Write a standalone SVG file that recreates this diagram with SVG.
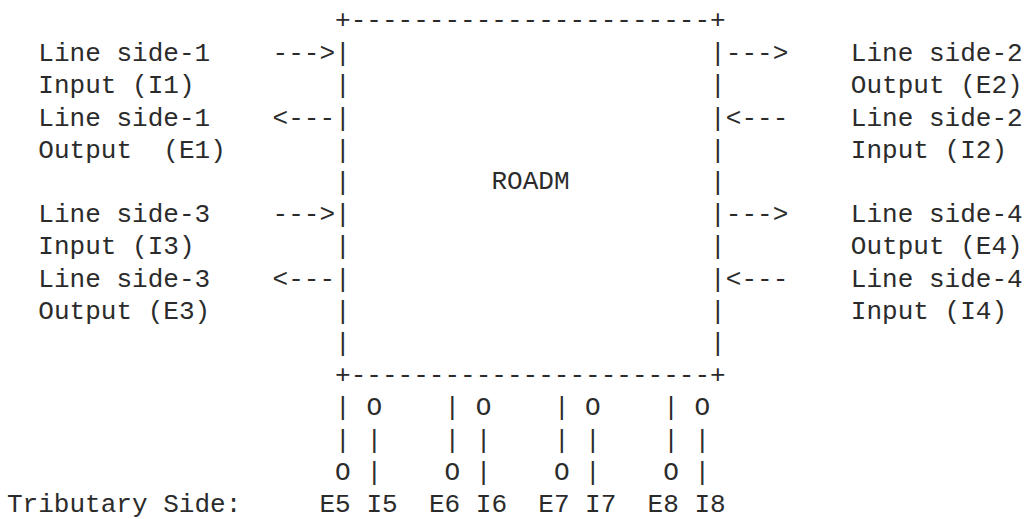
<svg xmlns="http://www.w3.org/2000/svg" width="1024" height="519" viewBox="0 0 1024 519" xml:space="preserve">
<style>
text { font-family: "Liberation Mono", "DejaVu Sans Mono", monospace; font-size: 26.04px; fill: #2b2b2b; white-space: pre; }
</style>
<rect width="1024" height="519" fill="#ffffff"/>
<g id="roadm">
<text x="335.1" y="28">+-----------------------+</text>
<text x="335.1" y="61.2">|</text><text x="710.1" y="61.2">|</text>
<text x="335.1" y="93.4">|</text><text x="710.1" y="93.4">|</text>
<text x="335.1" y="125.6">|</text><text x="710.1" y="125.6">|</text>
<text x="335.1" y="157.8">|</text><text x="710.1" y="157.8">|</text>
<text x="335.1" y="190">|</text><text x="710.1" y="190">|</text>
<text x="335.1" y="222.2">|</text><text x="710.1" y="222.2">|</text>
<text x="335.1" y="254.4">|</text><text x="710.1" y="254.4">|</text>
<text x="335.1" y="286.6">|</text><text x="710.1" y="286.6">|</text>
<text x="335.1" y="318.8">|</text><text x="710.1" y="318.8">|</text>
<text x="335.1" y="351">|</text><text x="710.1" y="351">|</text>
<text x="335.1" y="383.2">+-----------------------+</text>
<text x="491.4" y="189">ROADM</text>
</g>
<g id="side1-input"><text x="38.3" y="61.2">Line side-1</text><text x="38.3" y="93.4">Input (I1)</text></g>
<g id="side1-output"><text x="38.3" y="125.6">Line side-1</text><text x="38.3" y="157.8">Output  (E1)</text></g>
<g id="side3-input"><text x="38.3" y="222.2">Line side-3</text><text x="38.3" y="254.4">Input (I3)</text></g>
<g id="side3-output"><text x="38.3" y="286.6">Line side-3</text><text x="38.3" y="318.8">Output (E3)</text></g>
<g id="side2-output"><text x="850.8" y="61.2">Line side-2</text><text x="850.8" y="93.4">Output (E2)</text></g>
<g id="side2-input"><text x="850.8" y="125.6">Line side-2</text><text x="850.8" y="157.8">Input (I2)</text></g>
<g id="side4-output"><text x="850.8" y="222.2">Line side-4</text><text x="850.8" y="254.4">Output (E4)</text></g>
<g id="side4-input"><text x="850.8" y="286.6">Line side-4</text><text x="850.8" y="318.8">Input (I4)</text></g>
<g id="trib-5">
<text x="366.4" y="415.4">O</text><text x="335.1" y="479.8">O</text>
<text x="319.5" y="512">E5</text><text x="366.4" y="512">I5</text>
</g>
<g id="trib-6">
<text x="475.8" y="415.4">O</text><text x="444.5" y="479.8">O</text>
<text x="428.9" y="512">E6</text><text x="475.8" y="512">I6</text>
</g>
<g id="trib-7">
<text x="585.1" y="415.4">O</text><text x="553.9" y="479.8">O</text>
<text x="538.3" y="512">E7</text><text x="585.1" y="512">I7</text>
</g>
<g id="trib-8">
<text x="694.5" y="415.4">O</text><text x="663.3" y="479.8">O</text>
<text x="647.6" y="512">E8</text><text x="694.5" y="512">I8</text>
</g>
<g id="tributary-label"><text x="7" y="512">Tributary Side:</text></g>
<g id="connectors">
<text x="272.6" y="61.2">---></text>
<text x="272.6" y="125.6">&lt;---</text>
<text x="272.6" y="222.2">---></text>
<text x="272.6" y="286.6">&lt;---</text>
<text x="725.8" y="61.2">---></text>
<text x="725.8" y="125.6">&lt;---</text>
<text x="725.8" y="222.2">---></text>
<text x="725.8" y="286.6">&lt;---</text>
<text x="335.1" y="415.4">|</text>
<text x="335.1" y="447.6">|</text><text x="366.4" y="447.6">|</text>
<text x="366.4" y="479.8">|</text>
<text x="444.5" y="415.4">|</text>
<text x="444.5" y="447.6">|</text><text x="475.8" y="447.6">|</text>
<text x="475.8" y="479.8">|</text>
<text x="553.9" y="415.4">|</text>
<text x="553.9" y="447.6">|</text><text x="585.1" y="447.6">|</text>
<text x="585.1" y="479.8">|</text>
<text x="663.3" y="415.4">|</text>
<text x="663.3" y="447.6">|</text><text x="694.5" y="447.6">|</text>
<text x="694.5" y="479.8">|</text>
</g>
</svg>
